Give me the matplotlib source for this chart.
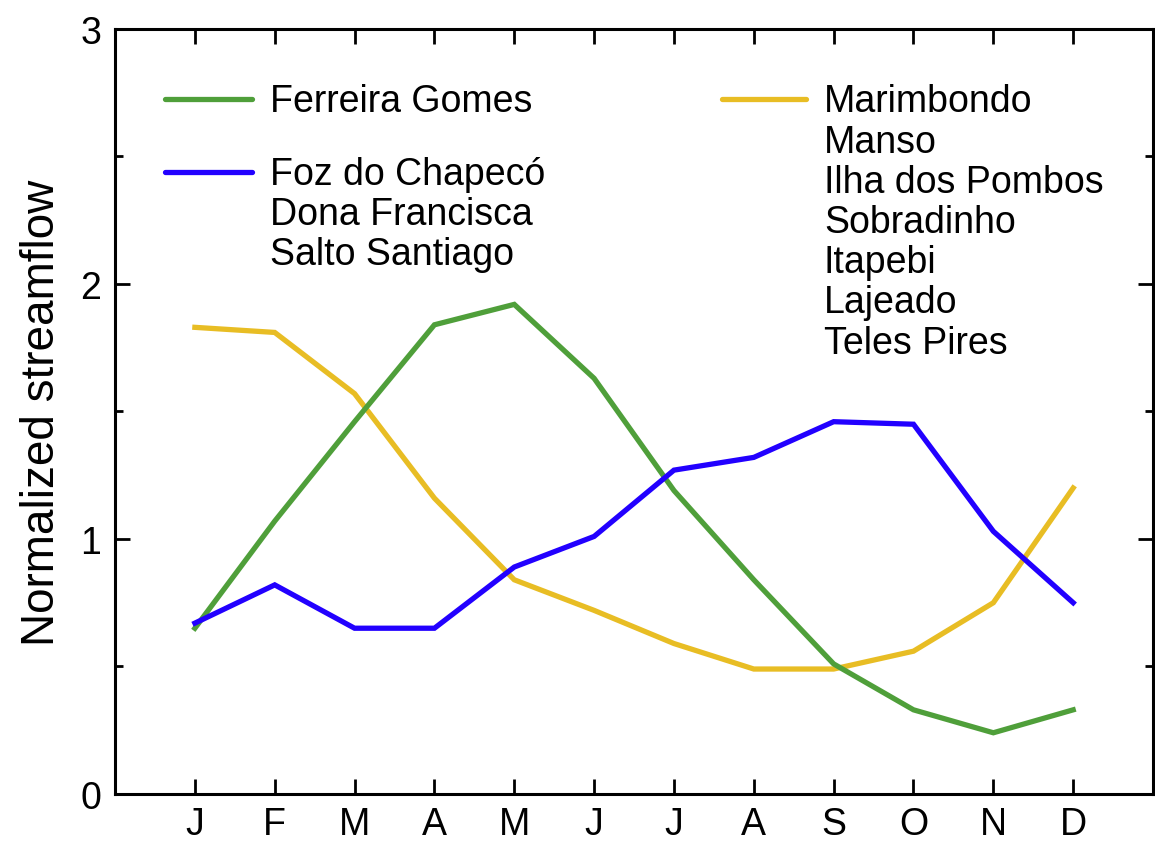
import numpy as np
import matplotlib
matplotlib.use("Agg")
import matplotlib.pyplot as plt
from matplotlib.ticker import MultipleLocator

plt.rcParams['font.family'] = ['Liberation Sans', 'DejaVu Sans']

# --- data ---
months = ['J', 'F', 'M', 'A', 'M', 'J', 'J', 'A', 'S', 'O', 'N', 'D']
ferreira = [0.65, 1.07, 1.46, 1.84, 1.92, 1.63, 1.19, 0.84, 0.51, 0.33, 0.24, 0.33]
foz = [0.67, 0.82, 0.65, 0.65, 0.89, 1.01, 1.27, 1.32, 1.46, 1.45, 1.03, 0.75]
marimbondo = [1.83, 1.81, 1.57, 1.16, 0.84, 0.72, 0.59, 0.49, 0.49, 0.56, 0.75, 1.20]

green_names = ['Ferreira Gomes']
blue_names = ['Foz do Chapecó', 'Dona Francisca', 'Salto Santiago']
yellow_names = ['Marimbondo', 'Manso', 'Ilha dos Pombos', 'Sobradinho',
                'Itapebi', 'Lajeado', 'Teles Pires']

c_green = '#4f9f3a'
c_blue = '#2200ff'
c_yellow = '#e8bd24'

# --- plot ---
fig = plt.figure(figsize=(11.55, 8.45), dpi=100)
ax = fig.add_axes([0.0996, 0.0592, 0.8987, 0.9053])

x = np.arange(len(months))
lw = 3.8
ax.plot(x, marimbondo, color=c_yellow, lw=lw, solid_joinstyle='miter')
ax.plot(x, ferreira, color=c_green, lw=lw, solid_joinstyle='miter')
ax.plot(x, foz, color=c_blue, lw=lw, solid_joinstyle='miter')

ax.set_xlim(-1, 12)
ax.set_ylim(0, 3)
ax.set_xticks(x)
ax.set_xticklabels(months)
ax.yaxis.set_major_locator(MultipleLocator(1))
ax.yaxis.set_minor_locator(MultipleLocator(0.5))

for s in ax.spines.values():
    s.set_linewidth(2.2)

ax.tick_params(axis='both', which='major', direction='in', length=11, width=2,
               labelsize=27, top=True, right=True)
ax.tick_params(axis='x', which='major', pad=9)
ax.tick_params(axis='y', which='major', pad=10)
ax.tick_params(axis='y', which='minor', direction='in', length=6, width=2,
               left=True, right=True)
ax.tick_params(axis='x', which='minor', bottom=False, top=False)

ax.set_ylabel('Normalized streamflow', fontsize=33, labelpad=12)

# --- hand-made legend ---
fs = 27
def legend_entry(x0, x1, y, color, names):
    ax.plot([x0, x1], [y, y], transform=ax.transAxes, color=color, lw=lw,
            solid_capstyle='round', clip_on=False)
    ax.text(x1 + 0.017, y + 0.021, '\n'.join(names), transform=ax.transAxes,
            fontsize=fs, va='top', ha='left', linespacing=1.15)

legend_entry(0.048, 0.132, 0.908, c_green, green_names)
legend_entry(0.048, 0.132, 0.813, c_blue, blue_names)
legend_entry(0.585, 0.666, 0.908, c_yellow, yellow_names)

fig.savefig('out.png', dpi=100)
